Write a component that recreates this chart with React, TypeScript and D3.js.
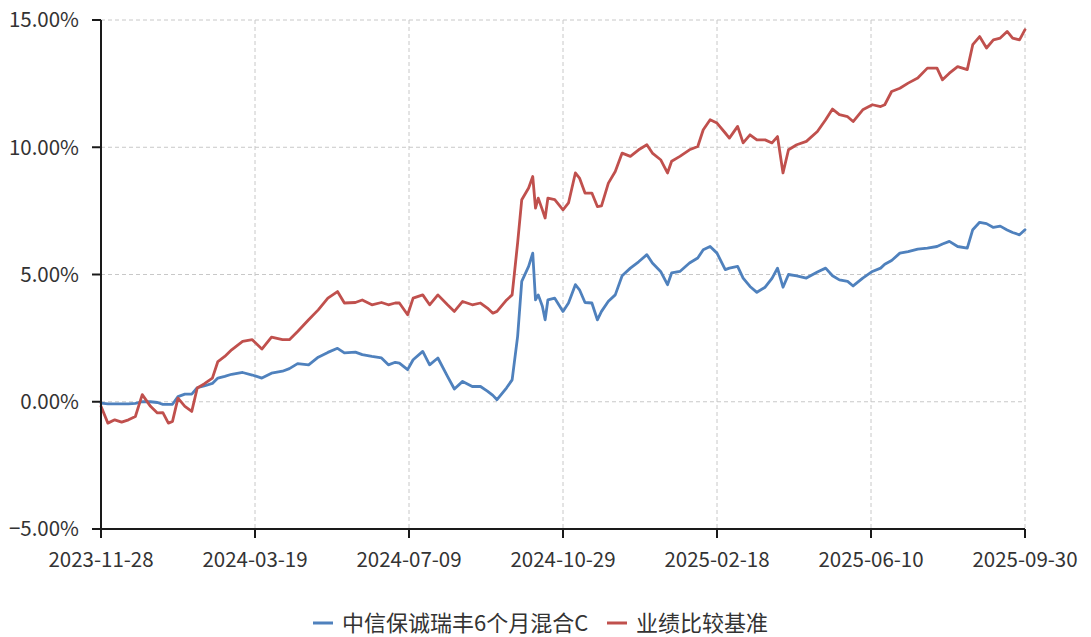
import React from "react";
import * as d3 from "d3";

const dates: string[] = [
  "2023-11-28","2023-12-03","2023-12-08","2023-12-13","2023-12-18","2023-12-23","2023-12-28",
  "2024-01-03","2024-01-08","2024-01-12","2024-01-16","2024-01-19","2024-01-23","2024-01-28",
  "2024-02-02","2024-02-06","2024-02-11","2024-02-17","2024-02-21","2024-02-26","2024-03-02",
  "2024-03-10","2024-03-17","2024-03-24","2024-03-31","2024-04-08","2024-04-13","2024-04-19",
  "2024-04-27","2024-05-04","2024-05-11","2024-05-18","2024-05-23","2024-05-31","2024-06-05",
  "2024-06-12","2024-06-19","2024-06-24","2024-06-29","2024-07-02","2024-07-08","2024-07-12",
  "2024-07-19","2024-07-24","2024-07-30","2024-08-06","2024-08-11","2024-08-17","2024-08-24",
  "2024-08-30","2024-09-04","2024-09-08","2024-09-11","2024-09-18","2024-09-22","2024-09-26",
  "2024-09-29","2024-10-04","2024-10-07","2024-10-09","2024-10-11","2024-10-14","2024-10-16",
  "2024-10-18","2024-10-23","2024-10-29","2024-11-02","2024-11-07","2024-11-10","2024-11-14",
  "2024-11-19","2024-11-23","2024-11-26","2024-12-01","2024-12-06","2024-12-11","2024-12-17",
  "2024-12-23","2024-12-29","2025-01-02","2025-01-08","2025-01-13","2025-01-16","2025-01-22",
  "2025-01-29","2025-02-04","2025-02-08","2025-02-13","2025-02-18","2025-02-24","2025-02-27",
  "2025-03-05","2025-03-09","2025-03-14","2025-03-19","2025-03-25","2025-03-30","2025-04-03",
  "2025-04-07","2025-04-11","2025-04-17","2025-04-24","2025-05-02","2025-05-08","2025-05-13",
  "2025-05-18","2025-05-24","2025-05-28","2025-06-04","2025-06-11","2025-06-17","2025-06-20",
  "2025-06-25","2025-07-01","2025-07-07","2025-07-14","2025-07-21","2025-07-28","2025-08-01",
  "2025-08-06","2025-08-12","2025-08-19","2025-08-23","2025-08-28","2025-09-02","2025-09-07",
  "2025-09-12","2025-09-17","2025-09-21","2025-09-26","2025-09-30",
];

const fundValues: number[] = [
  -0.05,-0.08,-0.08,-0.08,-0.08,-0.06,0.0,
  0.0,-0.03,-0.1,-0.1,-0.1,0.2,0.3,
  0.3,0.55,0.62,0.72,0.93,1.0,1.08,
  1.15,1.05,0.93,1.12,1.2,1.3,1.5,
  1.45,1.75,1.94,2.1,1.92,1.95,1.85,
  1.78,1.72,1.45,1.55,1.52,1.26,1.65,
  1.98,1.45,1.72,1.0,0.5,0.8,0.6,
  0.6,0.42,0.25,0.08,0.55,0.86,2.57,
  4.73,5.32,5.84,4.0,4.2,3.75,3.22,
  4.0,4.07,3.55,3.88,4.6,4.4,3.9,
  3.88,3.22,3.55,3.95,4.2,4.95,5.25,
  5.5,5.78,5.45,5.12,4.6,5.06,5.12,
  5.45,5.65,5.97,6.1,5.84,5.19,5.25,
  5.32,4.86,4.53,4.3,4.5,4.85,5.25,
  4.5,5.0,4.95,4.86,5.1,5.25,4.95,
  4.79,4.73,4.55,4.86,5.12,5.25,5.4,
  5.55,5.84,5.9,6.0,6.04,6.1,6.2,
  6.3,6.1,6.04,6.76,7.05,7.0,6.85,
  6.9,6.75,6.65,6.56,6.76,
];

const benchValues: number[] = [
  -0.18,-0.84,-0.71,-0.8,-0.71,-0.58,0.28,
  -0.18,-0.44,-0.43,-0.84,-0.77,0.14,-0.18,
  -0.38,0.54,0.7,0.93,1.58,1.78,2.04,
  2.37,2.44,2.07,2.54,2.44,2.44,2.76,
  3.22,3.61,4.07,4.33,3.88,3.9,4.0,
  3.81,3.9,3.81,3.88,3.88,3.42,4.07,
  4.2,3.81,4.2,3.81,3.55,3.94,3.81,
  3.88,3.68,3.48,3.55,4.0,4.2,6.24,
  7.94,8.4,8.85,7.61,8.0,7.54,7.22,
  8.0,7.94,7.54,7.81,8.99,8.79,8.2,
  8.2,7.67,7.7,8.59,9.05,9.77,9.64,
  9.9,10.1,9.77,9.51,8.99,9.45,9.64,
  9.9,10.03,10.69,11.08,10.95,10.56,10.36,
  10.82,10.17,10.49,10.29,10.29,10.17,10.42,
  8.99,9.9,10.1,10.23,10.62,11.08,11.5,
  11.28,11.2,11.01,11.47,11.67,11.6,11.67,
  12.19,12.32,12.52,12.72,13.11,13.11,12.65,
  12.91,13.17,13.05,14.03,14.35,13.9,14.22,
  14.29,14.55,14.29,14.22,14.62,
];

const xTickLabels: string[] = [
  "2023-11-28","2024-03-19","2024-07-09","2024-10-29","2025-02-18","2025-06-10","2025-09-30",
];
const yTicks: number[] = [-5, 0, 5, 10, 15];

const seriesNames: string[] = ["中信保诚瑞丰6个月混合C", "业绩比较基准"];
const seriesColors: string[] = ["#4F81BD", "#C0504D"];

const W = 1091;
const H = 637;
const FONT = "'Noto Sans CJK SC', 'Noto Sans', sans-serif";

export default function App() {
  const parse = d3.timeParse("%Y-%m-%d");
  const xDates = dates.map((d) => parse(d) as Date);
  const tickDates = xTickLabels.map((d) => parse(d) as Date);

  const x = d3
    .scaleTime()
    .domain([tickDates[0], tickDates[tickDates.length - 1]])
    .range([101, 1025]);
  const y = d3.scaleLinear().domain([-5, 15]).range([529, 20]);

  const line = d3
    .line<number>()
    .x((_, i) => x(xDates[i]))
    .y((v) => y(v))
    .curve(d3.curveLinear);

  const series = [fundValues, benchValues];
  const x0 = x.range()[0];
  const x1 = x.range()[1];
  const yBottom = y(-5);

  const legendY = 623;
  const legendItems = [
    { lineX: 313, textX: 342 },
    { lineX: 607, textX: 636 },
  ];

  return (
    <div style={{ position: "absolute", left: 0, top: 0 }}>
      <svg width={W} height={H} style={{ display: "block", background: "#fff" }}>
        {yTicks.slice(1).map((t) => (
          <line
            key={"hg" + t}
            x1={x0}
            x2={x1}
            y1={y(t)}
            y2={y(t)}
            stroke="#c8c8c8"
            strokeWidth={1}
            strokeDasharray="4,3"
          />
        ))}
        {tickDates.slice(1).map((d, i) => (
          <line
            key={"vg" + i}
            x1={x(d)}
            x2={x(d)}
            y1={y(15)}
            y2={yBottom}
            stroke="#c8c8c8"
            strokeWidth={1}
            strokeDasharray="4,3"
          />
        ))}

        {series.map((vals, si) => (
          <path
            key={"s" + si}
            d={line(vals) || ""}
            fill="none"
            stroke={seriesColors[si]}
            strokeWidth={2.8}
            strokeLinejoin="round"
            strokeLinecap="round"
          />
        ))}

        <line x1={x0} x2={x0} y1={y(15)} y2={yBottom} stroke="#1a1a1a" strokeWidth={2} />
        {yTicks.map((t) => (
          <g key={"yt" + t}>
            <line x1={x0 - 9} x2={x0} y1={y(t)} y2={y(t)} stroke="#1a1a1a" strokeWidth={2} />
            <text
              x={x0 - 22}
              y={y(t)}
              dy="0.36em"
              textAnchor="end"
              fontFamily={FONT}
              fontSize={20.5}
              fill="#333"
            >
              {d3.format(".2f")(t) + "%"}
            </text>
          </g>
        ))}

        <line x1={x0} x2={x1} y1={yBottom} y2={yBottom} stroke="#1a1a1a" strokeWidth={2} />
        {tickDates.map((d, i) => (
          <g key={"xt" + i}>
            <line x1={x(d)} x2={x(d)} y1={yBottom} y2={yBottom + 9} stroke="#1a1a1a" strokeWidth={2} />
            <text
              x={x(d)}
              y={567}
              textAnchor="middle"
              fontFamily={FONT}
              fontSize={20.5}
              fill="#333"
            >
              {xTickLabels[i]}
            </text>
          </g>
        ))}

        {seriesNames.map((name, i) => (
          <g key={"lg" + i}>
            <line
              x1={legendItems[i].lineX}
              x2={legendItems[i].lineX + 20}
              y1={legendY}
              y2={legendY}
              stroke={seriesColors[i]}
              strokeWidth={3}
            />
            <text
              x={legendItems[i].textX}
              y={legendY}
              dy="0.36em"
              fontFamily={FONT}
              fontSize={22}
              fill="#333"
            >
              {name}
            </text>
          </g>
        ))}
      </svg>
    </div>
  );
}
